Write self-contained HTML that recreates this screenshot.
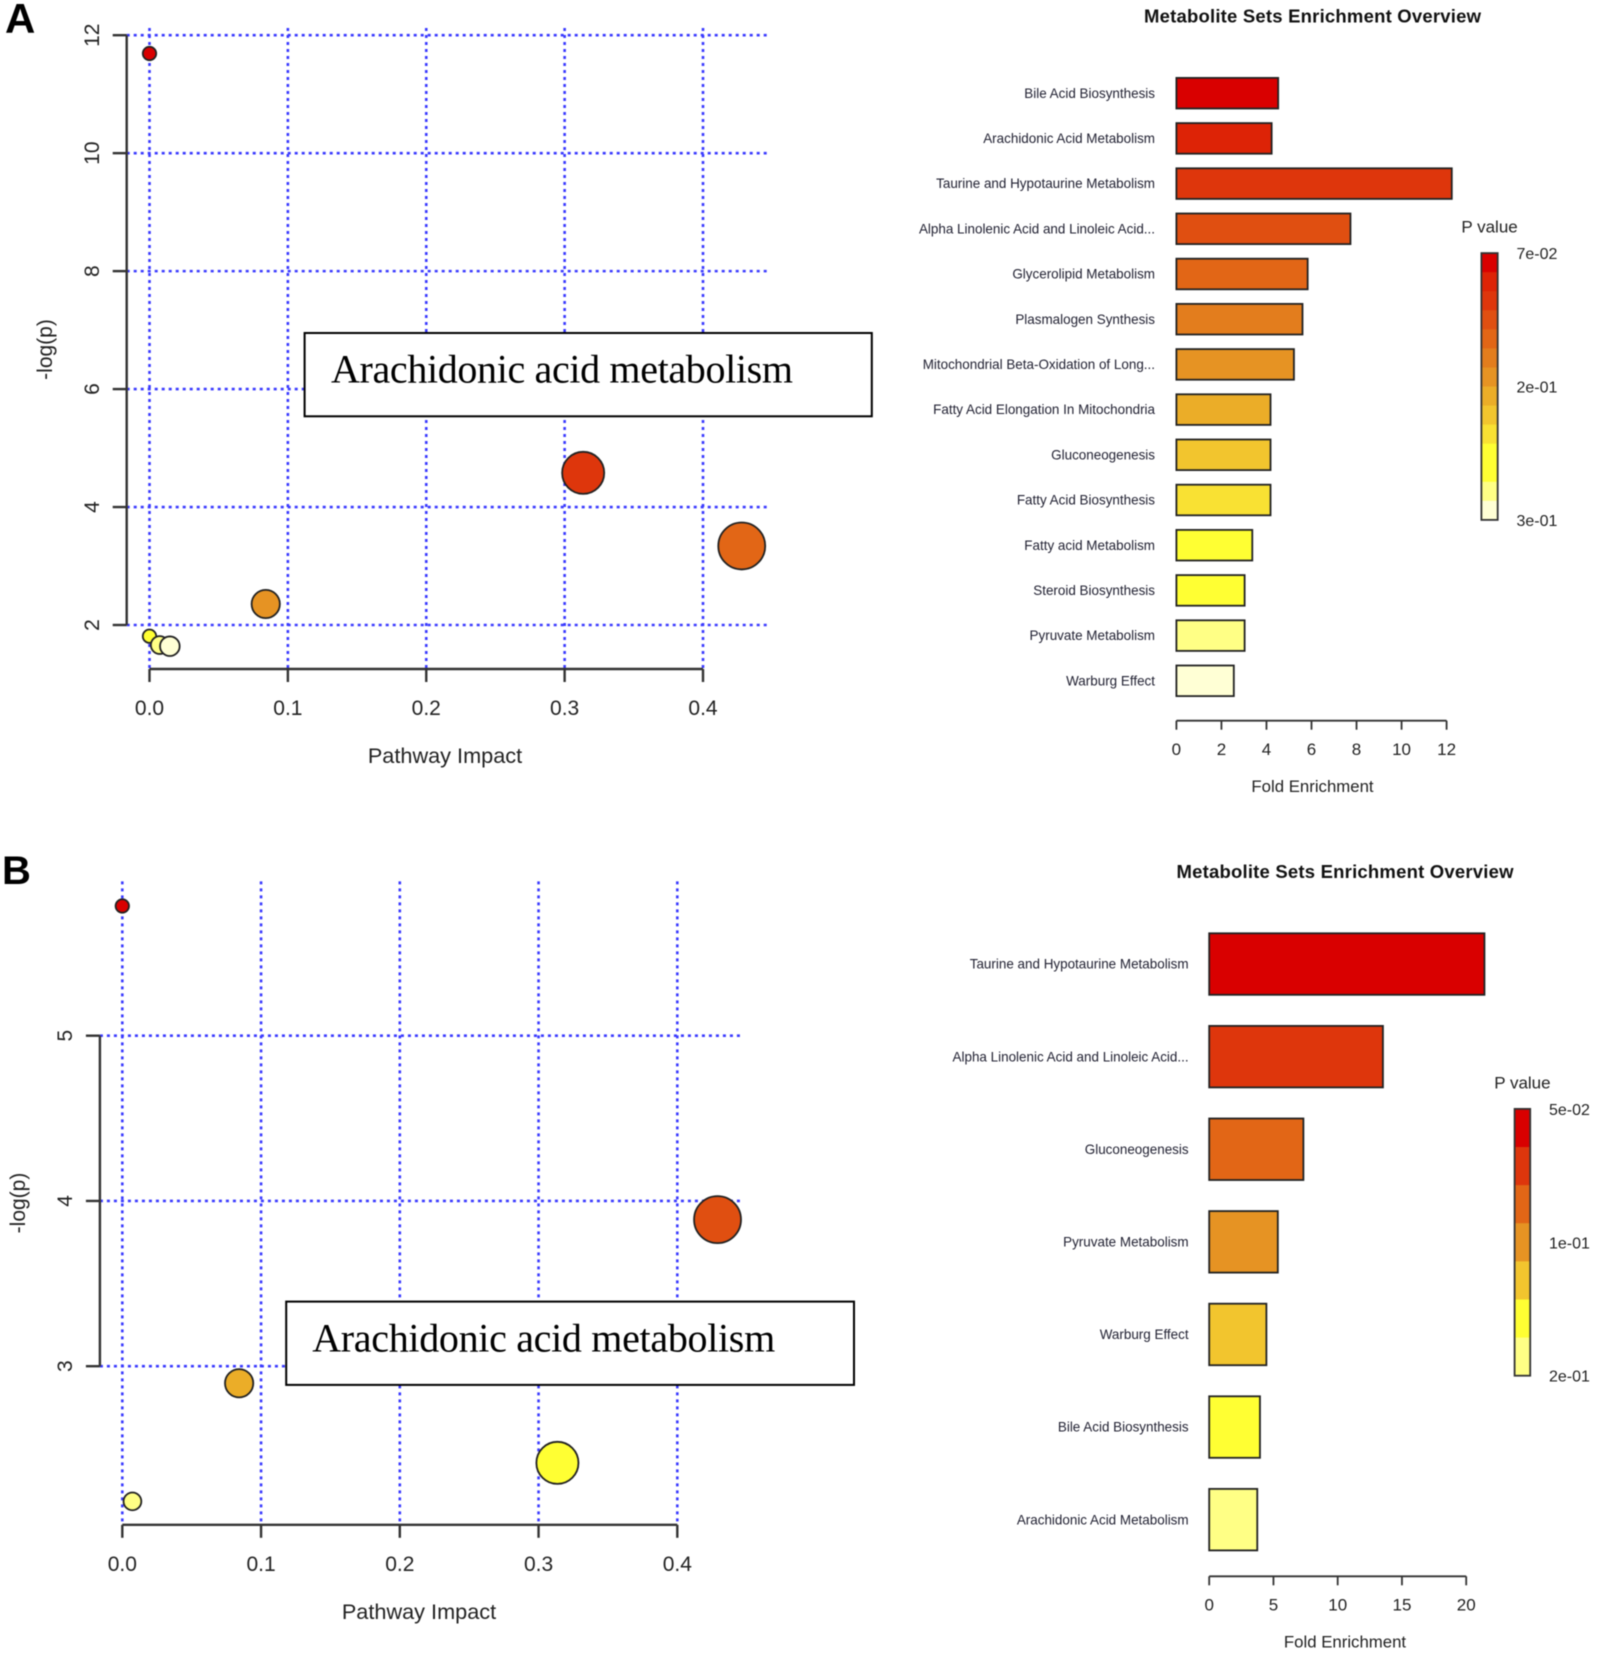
<!DOCTYPE html>
<html lang="en">
<head>
<meta charset="utf-8">
<title>Metabolite pathway and enrichment charts</title>
<style>
html,body{margin:0;padding:0;background:#fff;}
svg{display:block;filter:blur(0.5px);}
text{font-family:"Liberation Sans",Arial,sans-serif;fill:#222;}
</style>
</head>
<body>
<svg id="figure" xmlns="http://www.w3.org/2000/svg" width="1598" height="1657" viewBox="0 0 1598 1657">
  <rect x="0" y="0" width="1598" height="1657" fill="#fff"/>
  <text x="5" y="33" style="font-size:42px;font-weight:bold;fill:#000;">A</text>
  <text x="2" y="884" style="font-size:40px;font-weight:bold;fill:#000;">B</text>
  <g id="scatterA"></g>
  <g id="barsA"></g>
  <g id="scatterB"></g>
  <g id="barsB"></g>
</svg>
<script>
// ---- data: panel A scatter ----
const scatterAImpact = [0, 0.3134, 0.428, 0.084, 0, 0.0074, 0.0147];
const scatterALogP = [11.69, 4.58, 3.34, 2.356, 1.81, 1.66, 1.64];
const scatterARank = [0, 2, 4, 6, 10, 12, 13];
const scatterAYTicks = [2, 4, 6, 8, 10, 12];
// ---- data: panel B scatter ----
const scatterBImpact = [0, 0.429, 0.0842, 0.3136, 0.0073];
const scatterBLogP = [5.785, 3.887, 2.897, 2.415, 2.182];
const scatterBRank = [0, 3, 7, 10, 12];
const scatterBYTicks = [3, 4, 5];
const scatterXTicks = [0, 0.1, 0.2, 0.3, 0.4];
const scatterXTickLabels = ['0.0', '0.1', '0.2', '0.3', '0.4'];
// ---- data: panel A bars ----
const barALabels = ['Bile Acid Biosynthesis', 'Arachidonic Acid Metabolism', 'Taurine and Hypotaurine Metabolism', 'Alpha Linolenic Acid and Linoleic Acid...', 'Glycerolipid Metabolism', 'Plasmalogen Synthesis', 'Mitochondrial Beta-Oxidation of Long...', 'Fatty Acid Elongation In Mitochondria', 'Gluconeogenesis', 'Fatty Acid Biosynthesis', 'Fatty acid Metabolism', 'Steroid Biosynthesis', 'Pyruvate Metabolism', 'Warburg Effect'];
const barAValues = [4.52, 4.23, 12.23, 7.73, 5.83, 5.6, 5.22, 4.18, 4.18, 4.18, 3.37, 3.03, 3.03, 2.55];
const barARank = [0, 1, 2, 3, 4, 5, 6, 7, 8, 9, 10, 11, 12, 13];
const barAXTicks = [0, 2, 4, 6, 8, 10, 12];
const legendALabels = ['7e-02', '2e-01', '3e-01'];
// ---- data: panel B bars ----
const barBLabels = ['Taurine and Hypotaurine Metabolism', 'Alpha Linolenic Acid and Linoleic Acid...', 'Gluconeogenesis', 'Pyruvate Metabolism', 'Warburg Effect', 'Bile Acid Biosynthesis', 'Arachidonic Acid Metabolism'];
const barBValues = [21.42, 13.52, 7.33, 5.34, 4.45, 3.95, 3.74];
const barBRank = [0, 2, 4, 6, 8, 10, 12];
const barBXTicks = [0, 5, 10, 15, 20];
const legendBLabels = ['5e-02', '1e-01', '2e-01'];

const heatScale = ['#d90000', '#dd2306', '#de360c', '#e04f11', '#e26616', '#e37d1d', '#e69323', '#ebad28', '#f2c52e', '#f9e133', '#ffff33', '#ffff33', '#ffff85', '#ffffd5'];

const SVGNS = 'http://www.w3.org/2000/svg';
function mk(parent, tag, attrs, txt) {
  const el = document.createElementNS(SVGNS, tag);
  for (const k in attrs) el.setAttribute(k, attrs[k]);
  if (txt !== undefined) el.textContent = txt;
  parent.appendChild(el);
  return el;
}
function linear(d0, d1, r0, r1) {
  return function (v) { return r0 + (v - d0) * (r1 - r0) / (d1 - d0); };
}

function drawScatter(g, cfg, impact, logp, rank, yTicks) {
  const x = linear(0, 0.4, cfg.x0, cfg.x4);
  const y = linear(yTicks[0], yTicks[yTicks.length - 1], cfg.yBottomTick, cfg.yTopTick);
  const axisColor = '#333';
  scatterXTicks.forEach(function (t) {
    const el = mk(g, 'line', {x1: x(t), x2: x(t), y1: cfg.gridTop, y2: cfg.xAxisY, stroke: '#3a3aff', 'stroke-width': 2.6, 'stroke-dasharray': '3 4'});
    
    
  });
  yTicks.forEach(function (t) {
    const el = mk(g, 'line', {x1: cfg.yAxisX, x2: cfg.gridRight, y1: y(t), y2: y(t), stroke: '#3a3aff', 'stroke-width': 2.6, 'stroke-dasharray': '3 4'});
    
    
  });
  const xAxis = mk(g, 'line', {x1: x(0), x2: x(0.4), y1: cfg.xAxisY, y2: cfg.xAxisY, stroke: axisColor, 'stroke-width': 2.4});
  
  
  scatterXTicks.forEach(function (t, i) {
    const tick = mk(g, 'line', {x1: x(t), x2: x(t), y1: cfg.xAxisY, y2: cfg.xAxisY + 13, stroke: axisColor, 'stroke-width': 2.4});
    
    
    const lab = mk(g, 'text', {x: x(t), y: cfg.xLabelY, 'text-anchor': 'middle', style: 'font-size:21px;'}, scatterXTickLabels[i]);
    
    
  });
  const yAxis = mk(g, 'line', {x1: cfg.yAxisX, x2: cfg.yAxisX, y1: y(yTicks[0]), y2: y(yTicks[yTicks.length - 1]), stroke: axisColor, 'stroke-width': 2.4});
  
  
  yTicks.forEach(function (t) {
    const tick = mk(g, 'line', {x1: cfg.yAxisX - 14, x2: cfg.yAxisX, y1: y(t), y2: y(t), stroke: axisColor, 'stroke-width': 2.4});
    
    
    const lx = cfg.yLabelX, ly = y(t);
    const lab = mk(g, 'text', {x: lx, y: ly, 'text-anchor': 'middle', transform: 'rotate(-90 ' + lx + ' ' + ly + ')', style: 'font-size:21px;'}, String(t));
    
    
  });
  const xTitle = mk(g, 'text', {x: cfg.xTitleX, y: cfg.xTitleY, 'text-anchor': 'middle', style: 'font-size:21.7px;'}, 'Pathway Impact');
  
  
  const yTitle = mk(g, 'text', {x: cfg.yTitleX, y: cfg.yTitleY, 'text-anchor': 'middle', transform: 'rotate(-90 ' + cfg.yTitleX + ' ' + cfg.yTitleY + ')', style: 'font-size:21px;'}, '-log(p)');
  
  
  impact.forEach(function (v, i) {
    const c = mk(g, 'circle', {cx: x(v), cy: y(logp[i]), r: 6.7 + 25.6 * Math.sqrt(v), fill: heatScale[rank[i]], stroke: '#222', 'stroke-width': 1.8});
    
    
  });
  const box = mk(g, 'rect', {x: cfg.boxX, y: cfg.boxY, width: cfg.boxW, height: cfg.boxH, fill: '#fff', stroke: '#000', 'stroke-width': 2});
  
  
  const note = mk(g, 'text', {x: cfg.noteX, y: cfg.noteY, textLength: cfg.noteW, lengthAdjust: 'spacing', style: 'font-family:\'Liberation Serif\',serif;font-size:40px;fill:#000;'}, 'Arachidonic acid metabolism');
  
  
}

function drawBars(g, cfg, labels, values, rank, ticks, legendLabels) {
  const x = linear(0, ticks[ticks.length - 1], cfg.x0, cfg.xEnd);
  const title = mk(g, 'text', {x: cfg.titleX, y: cfg.titleY, 'text-anchor': 'middle', textLength: 337, lengthAdjust: 'spacing', style: 'font-size:18.5px;font-weight:bold;fill:#111;'}, 'Metabolite Sets Enrichment Overview');
  
  
  values.forEach(function (v, i) {
    const top = cfg.barTop + i * cfg.pitch;
    const b = mk(g, 'rect', {x: x(0), y: top, width: x(v) - x(0), height: cfg.barH, fill: heatScale[rank[i]], stroke: '#222', 'stroke-width': 1.8});
    
    
    const lab = mk(g, 'text', {x: cfg.labelRight, y: top + cfg.barH / 2 + 4.6, 'text-anchor': 'end', style: 'font-size:13.45px;fill:#223;'}, labels[i]);
    
    
  });
  const axis = mk(g, 'line', {x1: x(0), x2: x(ticks[ticks.length - 1]), y1: cfg.axisY, y2: cfg.axisY, stroke: '#333', 'stroke-width': 1.8});
  
  
  ticks.forEach(function (t) {
    const tick = mk(g, 'line', {x1: x(t), x2: x(t), y1: cfg.axisY, y2: cfg.axisY + 9, stroke: '#333', 'stroke-width': 1.8});
    
    
    const lab = mk(g, 'text', {x: x(t), y: cfg.tickLabelY, 'text-anchor': 'middle', style: 'font-size:17px;'}, String(t));
    
    
  });
  const xTitle = mk(g, 'text', {x: cfg.titleX, y: cfg.xTitleY, 'text-anchor': 'middle', style: 'font-size:16.8px;'}, 'Fold Enrichment');
  
  
  const legTitle = mk(g, 'text', {x: cfg.legX + cfg.legW / 2, y: cfg.legTitleY, 'text-anchor': 'middle', style: 'font-size:17px;'}, 'P value');
  
  
  const bandH = (cfg.legBottom - cfg.legTop) / rank.length;
  rank.forEach(function (r, i) {
    const band = mk(g, 'rect', {x: cfg.legX, y: cfg.legTop + i * bandH, width: cfg.legW, height: bandH + 0.5, fill: heatScale[r]});
    
    
  });
  const frame = mk(g, 'rect', {x: cfg.legX, y: cfg.legTop, width: cfg.legW, height: cfg.legBottom - cfg.legTop, fill: 'none', stroke: '#333', 'stroke-width': 1.8});
  
  
  legendLabels.forEach(function (t, i) {
    const yy = cfg.legTop + (cfg.legBottom - cfg.legTop) * i / (legendLabels.length - 1);
    const lab = mk(g, 'text', {x: cfg.legLabelX, y: yy + 6, style: 'font-size:16px;'}, t);
    
    
  });
}

drawScatter(document.getElementById('scatterA'), {
  x0: 149.5, x4: 703, yBottomTick: 625, yTopTick: 35.2, xAxisY: 669, yAxisX: 126.7, gridTop: 28, gridRight: 767,
  xLabelY: 715, yLabelX: 99, xTitleX: 445, xTitleY: 763, yTitleX: 52, yTitleY: 349.5,
  boxX: 304.6, boxY: 333, boxW: 567.2, boxH: 83.3, noteX: 331, noteY: 382.6, noteW: 462
}, scatterAImpact, scatterALogP, scatterARank, scatterAYTicks);

drawBars(document.getElementById('barsA'), {
  x0: 1176.4, xEnd: 1446.6, titleX: 1312.5, titleY: 22.5, barTop: 77.9, pitch: 45.2, barH: 30.6, labelRight: 1155,
  axisY: 720.7, tickLabelY: 755, xTitleY: 792,
  legX: 1481.4, legW: 16.3, legTop: 253.1, legBottom: 519.9, legTitleY: 232.5, legLabelX: 1516.5
}, barALabels, barAValues, barARank, barAXTicks, legendALabels);

drawScatter(document.getElementById('scatterB'), {
  x0: 122.3, x4: 677.3, yBottomTick: 1366.2, yTopTick: 1035.7, xAxisY: 1524.8, yAxisX: 99.9, gridTop: 881.4, gridRight: 742,
  xLabelY: 1571, yLabelX: 72, xTitleX: 419, xTitleY: 1619, yTitleX: 25, yTitleY: 1203,
  boxX: 286.2, boxY: 1301.6, boxW: 567.8, boxH: 83.3, noteX: 312.2, noteY: 1351.4, noteW: 463
}, scatterBImpact, scatterBLogP, scatterBRank, scatterBYTicks);

drawBars(document.getElementById('barsB'), {
  x0: 1209.2, xEnd: 1466.2, titleX: 1345, titleY: 878, barTop: 933.3, pitch: 92.6, barH: 61.5, labelRight: 1188.6,
  axisY: 1576.3, tickLabelY: 1610.5, xTitleY: 1647.5,
  legX: 1514.6, legW: 15.6, legTop: 1108.9, legBottom: 1375.7, legTitleY: 1088.3, legLabelX: 1549
}, barBLabels, barBValues, barBRank, barBXTicks, legendBLabels);
</script>
</body>
</html>
